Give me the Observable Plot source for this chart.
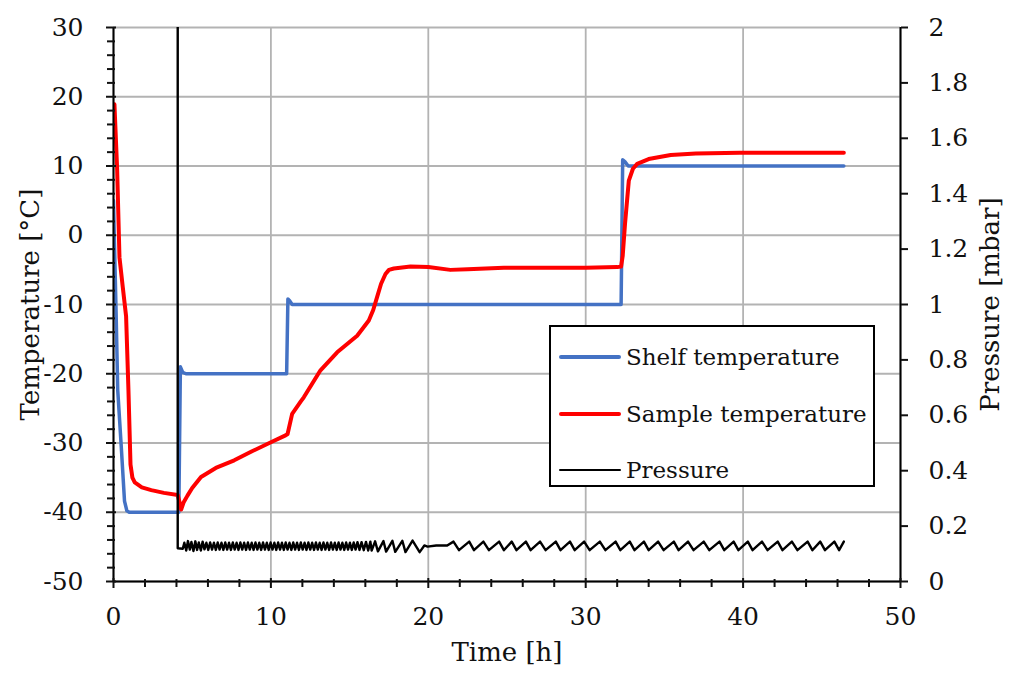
<!DOCTYPE html>
<html>
<head>
<meta charset="utf-8">
<script src="https://cdn.jsdelivr.net/npm/d3@7"></script>
<script src="https://cdn.jsdelivr.net/npm/@observablehq/plot@0.6"></script>
<style>
  html, body { margin: 0; padding: 0; background: #fff; }
  #wrap { position: relative; width: 1010px; height: 677px; font-family: "DejaVu Serif", serif; }
  #legend { position: absolute; left: 549px; top: 325px; width: 322px; height: 158px; border: 2px solid #000; background: #fff; }
  .row { position: absolute; left: 8px; height: 30px; display: flex; align-items: center; font-size: 23px; color: #111; white-space: nowrap; }
  .swatch { width: 62px; margin-right: 5px; border-radius: 2px; }
</style>
</head>
<body>
<div id="wrap"></div>
<script>
// ---- data ----
const shelfTime = [0, 0.06, 0.17, 0.27, 0.49, 0.7, 0.85, 1.0, 4.1, 4.15, 4.25, 4.4, 4.6, 11.0, 11.08, 11.2, 11.35, 32.25, 32.35, 32.5, 32.7, 46.4];
const shelfTemp = [5, -1, -11.7, -22.4, -30.4, -38.4, -39.8, -40, -40, -40, -19, -19.8, -20, -20, -9.2, -9.5, -10, -10, 10.9, 10.6, 10, 10];

const sampleTime = [0, 0.06, 0.23, 0.38, 0.59, 0.8, 0.95, 1.08, 1.2, 1.35, 1.8, 2.4, 3.2, 4.08, 4.2, 4.3, 4.45, 4.7, 5.0, 5.56, 6.5, 7.67, 8.8, 10.0, 10.93, 11.06, 11.35, 11.9, 12.09, 13.15, 14.21, 15.48, 16.22, 16.5, 16.75, 17.0, 17.28, 17.5, 17.81, 18.87, 20, 21.4, 22.5, 24.8, 28, 30, 32.0, 32.25, 32.35, 32.5, 32.74, 33.0, 33.27, 34, 35.4, 37, 39.8, 43, 46.4];
const sampleTemp = [18.9, 18.9, 9.6, -3.2, -7.5, -11.7, -22.4, -33.1, -35.0, -35.7, -36.4, -36.8, -37.2, -37.5, -38.6, -39.6, -38.6, -37.6, -36.5, -34.9, -33.6, -32.5, -31.2, -29.9, -28.9, -28.7, -25.8, -24.0, -23.4, -19.5, -16.9, -14.5, -12.3, -10.8, -8.9, -7.0, -5.6, -5.0, -4.8, -4.5, -4.6, -5.0, -4.9, -4.7, -4.7, -4.7, -4.6, -4.5, -3.0, 1.7, 7.9, 9.6, 10.3, 11.0, 11.6, 11.8, 11.9, 11.9, 11.9];

const pressureTime = [0, 4.07, 4.08, 4.40, 4.50, 4.62, 4.73, 4.85, 4.95, 5.08, 5.20, 5.31, 5.42, 5.55, 5.66, 5.78, 5.90, 6.02, 6.14, 6.26, 6.38, 6.50, 6.62, 6.74, 6.86, 6.98, 7.10, 7.22, 7.34, 7.46, 7.58, 7.70, 7.82, 7.94, 8.06, 8.18, 8.30, 8.42, 8.54, 8.66, 8.78, 8.90, 9.02, 9.14, 9.26, 9.38, 9.50, 9.62, 9.74, 9.86, 9.98, 10.10, 10.22, 10.34, 10.46, 10.58, 10.70, 10.82, 10.94, 11.06, 11.18, 11.30, 11.42, 11.54, 11.66, 11.78, 11.90, 12.02, 12.14, 12.26, 12.38, 12.50, 12.62, 12.74, 12.86, 12.98, 13.10, 13.22, 13.34, 13.46, 13.58, 13.70, 13.82, 13.94, 14.06, 14.18, 14.30, 14.42, 14.54, 14.66, 14.78, 14.90, 15.02, 15.14, 15.26, 15.38, 15.50, 15.63, 15.76, 15.90, 16.04, 16.18, 16.32, 16.40, 16.62, 16.80, 17.15, 17.32, 17.72, 17.90, 18.35, 18.55, 19.00, 19.45, 19.75, 19.95, 20.5, 21.2, 21.60, 21.95, 22.60, 22.90, 23.50, 23.85, 24.50, 24.80, 25.30, 25.60, 26.20, 26.50, 27.10, 27.45, 28.10, 28.40, 29.00, 29.30, 29.90, 30.25, 30.90, 31.25, 31.90, 32.20, 32.80, 33.10, 33.70, 34.00, 34.60, 34.95, 35.60, 35.90, 36.50, 36.85, 37.50, 37.85, 38.50, 38.80, 39.40, 39.70, 40.30, 40.60, 41.20, 41.55, 42.20, 42.50, 43.10, 43.45, 44.10, 44.40, 44.90, 45.20, 45.80, 46.10, 46.40];
const pressureValue = [1000, 1000, 0.12, 0.118, 0.140, 0.112, 0.146, 0.115, 0.143, 0.110, 0.145, 0.114, 0.141, 0.112, 0.144, 0.116, 0.140, 0.114, 0.141, 0.115, 0.140, 0.114, 0.141, 0.115, 0.140, 0.114, 0.141, 0.115, 0.140, 0.114, 0.141, 0.115, 0.140, 0.114, 0.141, 0.115, 0.140, 0.114, 0.141, 0.115, 0.140, 0.114, 0.141, 0.115, 0.140, 0.114, 0.141, 0.115, 0.140, 0.114, 0.141, 0.115, 0.140, 0.114, 0.141, 0.115, 0.140, 0.114, 0.141, 0.115, 0.140, 0.114, 0.141, 0.115, 0.140, 0.114, 0.141, 0.115, 0.140, 0.114, 0.141, 0.115, 0.140, 0.114, 0.141, 0.115, 0.140, 0.114, 0.141, 0.115, 0.140, 0.114, 0.141, 0.115, 0.140, 0.114, 0.141, 0.115, 0.140, 0.114, 0.141, 0.115, 0.140, 0.114, 0.141, 0.115, 0.142, 0.114, 0.142, 0.113, 0.143, 0.112, 0.144, 0.112, 0.145, 0.109, 0.146, 0.108, 0.147, 0.107, 0.147, 0.106, 0.148, 0.106, 0.130, 0.126, 0.130, 0.130, 0.144, 0.113, 0.144, 0.113, 0.144, 0.113, 0.144, 0.113, 0.144, 0.113, 0.144, 0.113, 0.144, 0.113, 0.144, 0.113, 0.144, 0.113, 0.144, 0.113, 0.144, 0.113, 0.144, 0.113, 0.144, 0.113, 0.144, 0.113, 0.144, 0.113, 0.144, 0.113, 0.144, 0.113, 0.144, 0.113, 0.144, 0.113, 0.144, 0.113, 0.144, 0.113, 0.144, 0.113, 0.144, 0.113, 0.144, 0.113, 0.144, 0.113, 0.144, 0.113, 0.144, 0.113, 0.144, 0.113, 0.144, 0.113, 0.130];

const timeTicks = [0, 10, 20, 30, 40, 50];
const timeMinorTicks = [2, 4, 6, 8, 12, 14, 16, 18, 22, 24, 26, 28, 32, 34, 36, 38, 42, 44, 46, 48];
const tempTicks = [-50, -40, -30, -20, -10, 0, 10, 20, 30];
const tempMinorTicks = [-48, -46, -44, -42, -38, -36, -34, -32, -28, -26, -24, -22, -18, -16, -14, -12, -8, -6, -4, -2, 2, 4, 6, 8, 12, 14, 16, 18, 22, 24, 26, 28];
const pressureTicks = [0, 0.2, 0.4, 0.6, 0.8, 1, 1.2, 1.4, 1.6, 1.8, 2];
const pressureTickLabels = ["0", "0.2", "0.4", "0.6", "0.8", "1", "1.2", "1.4", "1.6", "1.8", "2"];

const seriesNames = ["Shelf temperature", "Sample temperature", "Pressure"];
const seriesColors = ["#4472c4", "#ff0000", "#000000"];

// ---- build tables ----
const timeDomain = [0, 50];
const tempDomain = [-50, 30];
const pressureDomain = [0, 2];
const pToT = p => tempDomain[0] + (p - pressureDomain[0]) * (tempDomain[1] - tempDomain[0]) / (pressureDomain[1] - pressureDomain[0]);

const shelf = shelfTime.map((t, i) => ({t, v: shelfTemp[i]}));
const sample = sampleTime.map((t, i) => ({t, v: sampleTemp[i]}));
const pressure = pressureTime.map((t, i) => ({t, v: pToT(pressureValue[i])}));
const pressureTickPos = pressureTicks.map(pToT);

const FONT = 25;
const TITLE = 26;
const gridStyle = {stroke: "#b3b3b3", strokeOpacity: 1, strokeWidth: 1.8};

const chart = Plot.plot({
  width: 1010,
  height: 677,
  marginLeft: 113,
  marginRight: 110,
  marginTop: 27,
  marginBottom: 96,
  style: {fontFamily: "'DejaVu Serif', serif", fontSize: FONT + "px", color: "#111", background: "#fff"},
  x: {domain: timeDomain},
  y: {domain: tempDomain},
  marks: [
    Plot.gridX(timeTicks, gridStyle),
    Plot.gridY(tempTicks, gridStyle),
    Plot.line(shelf, {x: "t", y: "v", stroke: seriesColors[0], strokeWidth: 3.5, strokeLinejoin: "round", clip: true}),
    Plot.line(sample, {x: "t", y: "v", stroke: seriesColors[1], strokeWidth: 4, strokeLinejoin: "round", strokeLinecap: "round", clip: true}),
    Plot.line(pressure, {x: "t", y: "v", stroke: seriesColors[2], strokeWidth: 2.4, strokeLinejoin: "round", clip: true}),
    Plot.ruleX([timeDomain[0], timeDomain[1]], {stroke: "#000", strokeWidth: 2}),
    Plot.ruleY([tempDomain[0]], {stroke: "#000", strokeWidth: 2}),
    // left axis
    Plot.axisY({ticks: tempTicks, tickSize: 10, dx: 3, tickPadding: 23, strokeWidth: 2, color: "#111", fontSize: FONT, tickFormat: d => String(d), label: null}),
    Plot.axisY({ticks: tempMinorTicks, tickSize: 8, dx: 2, tickPadding: 0, strokeWidth: 2, color: "#111", tickFormat: () => "", label: null}),
    // bottom axis
    Plot.axisX({ticks: timeTicks, tickSize: 10, dy: -3, tickPadding: 19, strokeWidth: 2, color: "#111", fontSize: FONT, tickFormat: d => String(d), label: null}),
    Plot.axisX({ticks: timeMinorTicks, tickSize: 8, dy: -2, tickPadding: 0, strokeWidth: 2, color: "#111", tickFormat: () => "", label: null}),
    // right (pressure) axis
    Plot.axisY({anchor: "right", ticks: pressureTickPos, tickSize: 7, tickPadding: 21, strokeWidth: 2, color: "#111", fontSize: FONT,
      tickFormat: d => pressureTickLabels[pressureTickPos.indexOf(d)], textAnchor: "start", label: null}),
    // axis titles
    Plot.text(["Temperature [°C]"], {text: d => d, frameAnchor: "left", textAnchor: "middle", dx: -83, rotate: -90, fontSize: TITLE, fill: "#111"}),
    Plot.text(["Pressure [mbar]"], {text: d => d, frameAnchor: "right", textAnchor: "middle", dx: 90, rotate: -90, fontSize: TITLE, fill: "#111"}),
    Plot.text(["Time [h]"], {text: d => d, frameAnchor: "bottom", textAnchor: "middle", dy: 79, fontSize: TITLE, fill: "#111"})
  ]
});

const wrap = document.getElementById("wrap");
wrap.appendChild(chart);

// legend inside the plot area
const legend = document.createElement("div");
legend.id = "legend";
const rowTops = [15, 72, 128];
const swatchHeights = [4, 4, 2.5];
seriesNames.forEach((name, i) => {
  const row = document.createElement("div");
  row.className = "row";
  row.style.top = rowTops[i] + "px";
  const sw = document.createElement("span");
  sw.className = "swatch";
  sw.style.background = seriesColors[i];
  sw.style.height = swatchHeights[i] + "px";
  const label = document.createElement("span");
  label.textContent = name;
  row.appendChild(sw);
  row.appendChild(label);
  legend.appendChild(row);
});
wrap.appendChild(legend);
</script>
</body>
</html>
